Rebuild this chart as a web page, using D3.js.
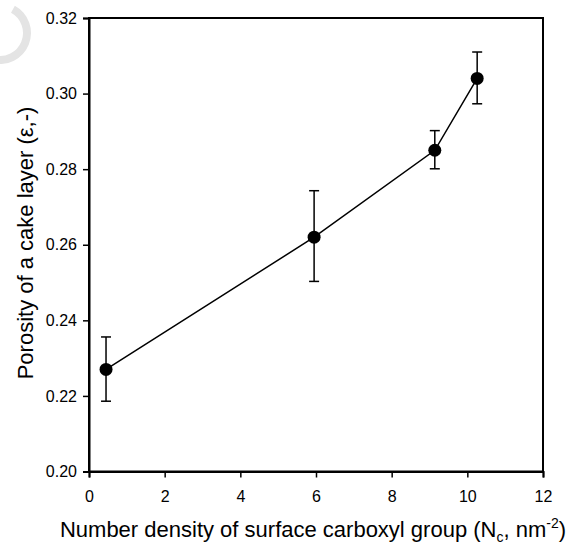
<!DOCTYPE html>
<html>
<head>
<meta charset="utf-8">
<script src="https://cdn.jsdelivr.net/npm/d3@7/dist/d3.min.js"></script>
<style>
  html, body { margin: 0; padding: 0; background: #fff; }
  svg { display: block; }
  text { font-family: "Liberation Sans", Arial, sans-serif; fill: #000; }
</style>
</head>
<body>
<svg id="chart" width="577" height="544"></svg>
<script>
// Surface carboxyl group density vs. cake layer porosity
const density  = [0.45, 5.95, 9.14, 10.26];
const porosity = [0.227, 0.262, 0.285, 0.304];
const errLow   = [0.2186, 0.2503, 0.2801, 0.2973];
const errHigh  = [0.2356, 0.2743, 0.2902, 0.3110];
const xTicks = [0, 2, 4, 6, 8, 10, 12];
const yTicks = [0.20, 0.22, 0.24, 0.26, 0.28, 0.30, 0.32];

const svg = d3.select("#chart");
const margin = { left: 89, right: 34, top: 18, bottom: 72.5 };
const W = 577, H = 544;

const x = d3.scaleLinear().domain([0, 12]).range([margin.left, W - margin.right]);
const y = d3.scaleLinear().domain([0.20, 0.32]).range([H - margin.bottom, margin.top]);

// faint logo arc in the corner
svg.append("path")
  .attr("d", d3.arc()({ innerRadius: 23, outerRadius: 31, startAngle: 0.5, endAngle: 3.4 }))
  .attr("transform", "translate(0,33)")
  .attr("fill", "#e4e4e4");

// frame
svg.append("rect")
  .attr("x", x(0)).attr("y", y(0.32))
  .attr("width", x(12) - x(0)).attr("height", y(0.20) - y(0.32))
  .attr("fill", "none").attr("stroke", "#000").attr("stroke-width", 2);

const xAxis = svg.append("g")
  .attr("transform", `translate(0,${y(0.20)})`)
  .call(d3.axisBottom(x).tickValues(xTicks).tickFormat(d3.format("d")).tickSize(6).tickPadding(13));
const yAxis = svg.append("g")
  .attr("transform", `translate(${x(0)},0)`)
  .call(d3.axisLeft(y).tickValues(yTicks).tickFormat(d3.format(".2f")).tickSize(6).tickPadding(6));

[xAxis, yAxis].forEach(g => {
  g.attr("font-size", 16).attr("font-family", "Liberation Sans, Arial, sans-serif");
  g.select(".domain").attr("stroke-width", 2);
  g.selectAll(".tick line").attr("stroke-width", 1.5);
  g.selectAll(".tick text").attr("font-size", 16);
});

// connecting line
const pts = density.map((d, i) => [d, porosity[i]]);
svg.append("path")
  .datum(pts)
  .attr("d", d3.line().x(d => x(d[0])).y(d => y(d[1])))
  .attr("fill", "none").attr("stroke", "#000").attr("stroke-width", 1.5);

// error bars
const cap = 5;
const eb = svg.append("g").attr("stroke", "#000").attr("stroke-width", 1.5);
density.forEach((d, i) => {
  eb.append("line").attr("x1", x(d)).attr("x2", x(d)).attr("y1", y(errLow[i])).attr("y2", y(errHigh[i]));
  eb.append("line").attr("x1", x(d) - cap).attr("x2", x(d) + cap).attr("y1", y(errLow[i])).attr("y2", y(errLow[i]));
  eb.append("line").attr("x1", x(d) - cap).attr("x2", x(d) + cap).attr("y1", y(errHigh[i])).attr("y2", y(errHigh[i]));
});

// markers
svg.append("g").selectAll("circle")
  .data(pts).join("circle")
  .attr("cx", d => x(d[0])).attr("cy", d => y(d[1]))
  .attr("r", 6.5).attr("fill", "#000");

// axis titles
const xt = svg.append("text")
  .attr("x", 313).attr("y", 537)
  .attr("text-anchor", "middle").style("font-size", "22px");
xt.append("tspan").text("Number density of surface carboxyl group (N");
xt.append("tspan").attr("dy", 5).style("font-size", "14px").text("c");
xt.append("tspan").attr("dy", -5).text(", nm");
xt.append("tspan").attr("dy", -9).style("font-size", "14px").text("-2");
xt.append("tspan").attr("dy", 9).text(")");

svg.append("text")
  .attr("transform", `translate(33,243) rotate(-90)`)
  .attr("text-anchor", "middle").style("font-size", "22px")
  .text("Porosity of a cake layer (ε,-)");
</script>
</body>
</html>
